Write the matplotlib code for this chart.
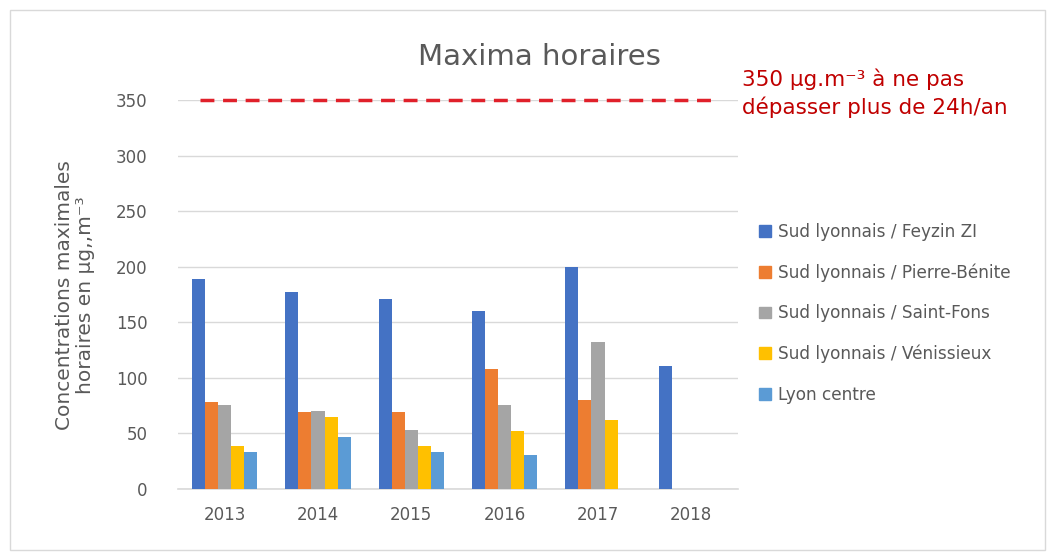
import numpy as np
import matplotlib.pyplot as plt
from matplotlib.patches import Rectangle, Patch

annees = ['2013', '2014', '2015', '2016', '2017', '2018']
stations = ['Sud lyonnais / Feyzin ZI', 'Sud lyonnais / Pierre-Bénite',
            'Sud lyonnais / Saint-Fons', 'Sud lyonnais / Vénissieux', 'Lyon centre']
feyzin = [189, 177, 171, 160, 200, 111]
pierre_benite = [78, 69, 69, 108, 80, np.nan]
saint_fons = [76, 70, 53, 76, 132, np.nan]
venissieux = [39, 65, 39, 52, 62, np.nan]
lyon_centre = [33, 47, 33, 31, np.nan, np.nan]
valeur_limite = 350

couleurs = ['#4472C4', '#ED7D31', '#A5A5A5', '#FFC000', '#5B9BD5']
series = [feyzin, pierre_benite, saint_fons, venissieux, lyon_centre]

gris = '#595959'
fig = plt.figure(figsize=(10.55, 5.53), dpi=100)
fig.patches.append(Rectangle((10 / 1055, 1 - 550 / 553), 1035 / 1055, 540 / 553,
                             transform=fig.transFigure, fill=False,
                             edgecolor='#D9D9D9', linewidth=1))

ax = fig.add_axes([178 / 1055, 1 - 489 / 553, 560 / 1055, 389 / 553])

x = np.arange(len(annees))
largeur = 0.14
for i, (s, c, nom) in enumerate(zip(series, couleurs, stations)):
    ax.bar(x + (i - 2) * largeur, s, largeur, color=c, label=nom, zorder=2)

ax.set_xlim(-0.5, len(annees) - 0.5)
ax.set_ylim(0, 350)
ax.set_yticks(range(0, 351, 50))
ax.set_xticks(x)
ax.set_xticklabels(annees)
ax.grid(axis='y', color='#D9D9D9', linewidth=1, zorder=0)
ax.axhline(0, color='#D9D9D9', linewidth=1.2, zorder=1, clip_on=False)
for sp in ax.spines.values():
    sp.set_visible(False)
ax.tick_params(length=0, colors=gris, labelsize=12)
ax.tick_params(axis='y', pad=22)
ax.tick_params(axis='x', pad=12)

ax.axhline(valeur_limite, xmin=0.04, xmax=0.965, color='#E0202A',
           linestyle=(0, (4, 2.5)), linewidth=2.5, clip_on=False, zorder=3)

fig.text(539 / 1055, 1 - 57 / 553, 'Maxima horaires', ha='center', va='center',
         fontsize=21, color=gris)
fig.text(742 / 1055, 1 - 93 / 553,
         '350 µg.m⁻³ à ne pas\ndépasser plus de 24h/an',
         ha='left', va='center', fontsize=15.5, color='#C00000', linespacing=1.4)

fig.text(75 / 1055, 1 - 295 / 553,
         'Concentrations maximales\nhoraires en µg,,m⁻³',
         rotation=90, ha='center', va='center', fontsize=14.5, color=gris,
         linespacing=1.15)

poignees = [Patch(color=c) for c in couleurs]
fig.legend(poignees, stations, loc='upper left',
           bbox_to_anchor=(744 / 1055, 1 - 208 / 553), frameon=False,
           fontsize=12.2, labelcolor=gris, handlelength=0.7, handleheight=0.7,
           handletextpad=0.4, labelspacing=1.32)

fig.savefig('out.png', dpi=100)
